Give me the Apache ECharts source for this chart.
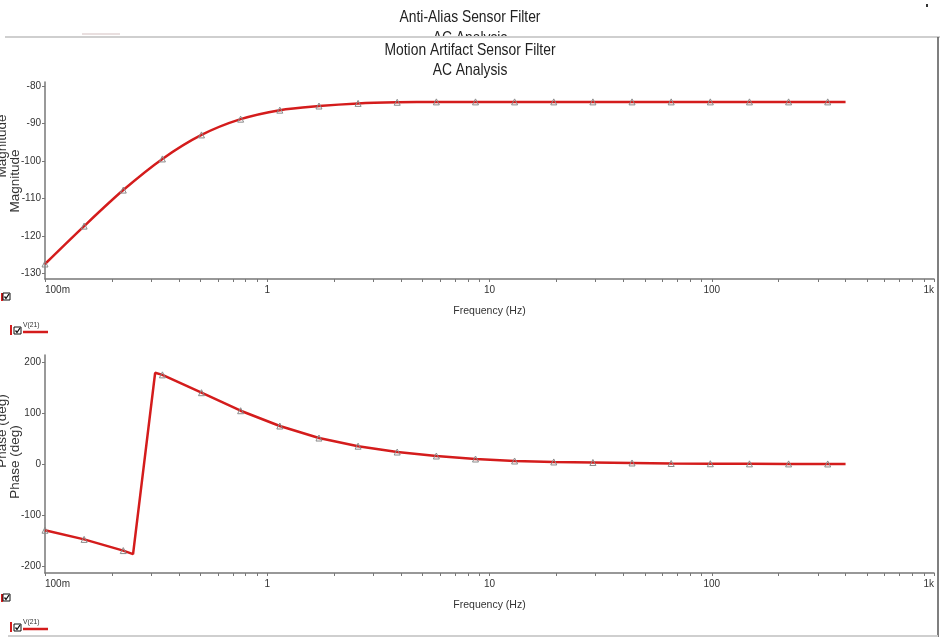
<!DOCTYPE html>
<html>
<head>
<meta charset="utf-8">
<script src="https://cdn.jsdelivr.net/npm/echarts@6/dist/echarts.min.js"></script>
<style>
html, body { margin: 0; padding: 0; background: #fff; }
#main { width: 942px; height: 639px; }
</style>
</head>
<body>
<div id="main"></div>
<script>
// magnitude trace, read at the simulator's marker points
var freq = [0.1, 0.15, 0.225, 0.3375, 0.506, 0.759, 1.139, 1.709, 2.563, 3.844, 5.767, 8.65,
    12.97, 19.46, 29.19, 43.79, 65.69, 98.53, 147.8, 221.7, 332.5, 400];
var magDb = [-127.5, -117.4, -107.8, -99.5, -93.1, -88.9, -86.5, -85.4, -84.7, -84.4, -84.3, -84.3,
    -84.3, -84.3, -84.3, -84.3, -84.3, -84.3, -84.3, -84.3, -84.3, -84.3];

// phase trace, with the wrap point (-180 -> +180) added
var phaseFreq = [0.1, 0.15, 0.225, 0.249, 0.313, 0.3375, 0.506, 0.759, 1.139, 1.709, 2.563, 3.844,
    5.767, 8.65, 12.97, 19.46, 29.19, 43.79, 65.69, 98.53, 147.8, 221.7, 332.5, 400];
var phaseDeg = [-130, -148, -170, -177, 179, 175, 140, 104.6, 74.6, 51, 35, 23.5,
    15.7, 9.8, 5.9, 4, 3, 2, 1, 0.5, 0.3, 0.2, 0.1, 0.1];
var noMarker = [0.249, 0.313, 400];

var magTicks = [-130, -120, -110, -100, -90, -80];
var phaseTicks = [-200, -100, 0, 100, 200];
var freqTicks = [0.1, 1, 10, 100, 1000];
var freqNames = {0.1: '100m', 1: '1', 10: '10', 100: '100', 1000: '1k'};

var RED = '#d41c1c';
var sans = '"Liberation Sans", Arial, sans-serif';

// minor ticks 2..9 in each decade
var minorTicks = [];
for (var d = 0.1; d < 1000; d *= 10) {
    for (var k = 1; k < 10; k++) minorTicks.push(+(d * k).toPrecision(3));
}
minorTicks.push(1000);

function pts(xs, ys) {
    return xs.map(function (x, i) {
        var item = { value: [x, ys[i]] };
        if (noMarker.indexOf(x) >= 0) item.symbol = 'none';
        return item;
    });
}

function xAxis(gi) {
    return {
        type: 'log', logBase: 10, gridIndex: gi, min: 0.1, max: 1000,
        name: 'Frequency (Hz)', nameLocation: 'middle', nameGap: 27,
        nameTextStyle: { fontFamily: sans, fontSize: 10.5, color: '#333' },
        axisLine: { onZero: false, lineStyle: { color: '#777', width: 1.5 } },
        axisTick: { show: true, length: 3, customValues: minorTicks, lineStyle: { color: '#777' } },
        axisLabel: {
            customValues: freqTicks, fontFamily: sans, fontSize: 10, color: '#333', margin: 6,
            alignMinLabel: 'left', alignMaxLabel: 'right',
            formatter: function (v) { return freqNames[+v.toPrecision(3)] || ''; }
        },
        splitLine: { show: false }
    };
}

function yAxis(gi, min, max, ticks) {
    return {
        type: 'value', gridIndex: gi, min: min, max: max,
        axisLine: { show: true, onZero: false, lineStyle: { color: '#777', width: 1.5 } },
        axisTick: { show: true, length: 3, customValues: ticks, lineStyle: { color: '#777' } },
        axisLabel: { customValues: ticks, fontFamily: sans, fontSize: 10, color: '#333', margin: 4 },
        splitLine: { show: false }
    };
}

function trace(gi, data, smooth) {
    return {
        type: 'line', xAxisIndex: gi, yAxisIndex: gi, data: data, smooth: smooth,
        symbol: 'triangle', symbolSize: 6, showSymbol: true, showAllSymbol: true,
        lineStyle: { color: RED, width: 2.5 },
        itemStyle: { color: 'rgba(255,255,255,0)', borderColor: '#8a8a8a', borderWidth: 1 },
        z: 3
    };
}

function checkbox(x, y) {
    return [
        { type: 'rect', shape: { x: x, y: y, width: 7, height: 7 }, style: { fill: '#fff', stroke: '#111', lineWidth: 1 } },
        { type: 'polyline', shape: { points: [[x + 1.5, y + 3.5], [x + 3, y + 5.5], [x + 6, y + 1]] }, style: { fill: null, stroke: '#111', lineWidth: 1.3 } }
    ];
}

function legendRow(y) {
    return [
        { type: 'rect', shape: { x: 10, y: y - 2, width: 2, height: 10 }, style: { fill: RED } }
    ].concat(checkbox(14, y), [
        { type: 'text', x: 23, y: y - 6, scaleX: 0.85, style: { text: 'V(21)', font: '8px ' + sans, fill: '#333' } },
        { type: 'line', shape: { x1: 23, y1: y + 5, x2: 48, y2: y + 5 }, style: { stroke: RED, lineWidth: 2.5 } }
    ]);
}

function title(text, y, z) {
    return { type: 'text', x: 470, y: y, scaleX: 0.84, z: z,
        style: { text: text, font: '16.5px ' + sans, fill: '#222', align: 'center', verticalAlign: 'middle' } };
}

function yName(text, x, y) {
    return { type: 'text', x: x, y: y, rotation: Math.PI / 2,
        style: { text: text, font: '13.5px ' + sans, fill: '#333', align: 'center', verticalAlign: 'middle' } };
}

var graphics = [
    // title of the window behind, partly covered
    title('Anti-Alias Sensor Filter', 17, 1),
    title('AC Analysis', 38, 1),
    { type: 'rect', shape: { x: 380, y: 37, width: 190, height: 8 }, style: { fill: '#fff' }, z: 2 },
    { type: 'line', shape: { x1: 5, y1: 37, x2: 940, y2: 37 }, style: { stroke: '#cfcfcf', lineWidth: 2 }, z: 3 },
    { type: 'line', shape: { x1: 82, y1: 34, x2: 120, y2: 34 }, style: { stroke: '#e2d4d4', lineWidth: 1.5 }, z: 3 },
    { type: 'rect', shape: { x: 926, y: 4, width: 2, height: 3 }, style: { fill: '#333' } },
    { type: 'line', shape: { x1: 938, y1: 37, x2: 938, y2: 637 }, style: { stroke: '#555', lineWidth: 1.5 }, z: 3 },
    { type: 'line', shape: { x1: 8, y1: 636, x2: 938, y2: 636 }, style: { stroke: '#cfcfcf', lineWidth: 2 }, z: 3 },
    // this window's title
    title('Motion Artifact Sensor Filter', 50, 4),
    title('AC Analysis', 70, 4),
    // axis names: the one behind, then this window's
    yName('Magnitude', 2, 146),
    yName('Magnitude', 15, 181),
    yName('Phase (deg)', 2, 431),
    yName('Phase (deg)', 15, 462),
    { type: 'rect', shape: { x: 1, y: 293, width: 2, height: 8 }, style: { fill: RED } },
    { type: 'rect', shape: { x: 1, y: 594, width: 2, height: 8 }, style: { fill: RED } }
].concat(checkbox(3, 293), checkbox(3, 594), legendRow(327), legendRow(624));

var chart = echarts.init(document.getElementById('main'));
chart.setOption({
    animation: false,
    backgroundColor: '#fff',
    grid: [
        { left: 45, right: 8, top: 82, height: 197, containLabel: false, outerBoundsMode: 'none' },
        { left: 45, right: 8, top: 355, height: 218, containLabel: false, outerBoundsMode: 'none' }
    ],
    xAxis: [xAxis(0), xAxis(1)],
    yAxis: [
        yAxis(0, -131.5, -79, magTicks),
        yAxis(1, -214, 214, phaseTicks)
    ],
    series: [
        trace(0, pts(freq, magDb), 0.3),
        trace(1, pts(phaseFreq, phaseDeg), false)
    ],
    graphic: graphics
});
</script>
</body>
</html>
